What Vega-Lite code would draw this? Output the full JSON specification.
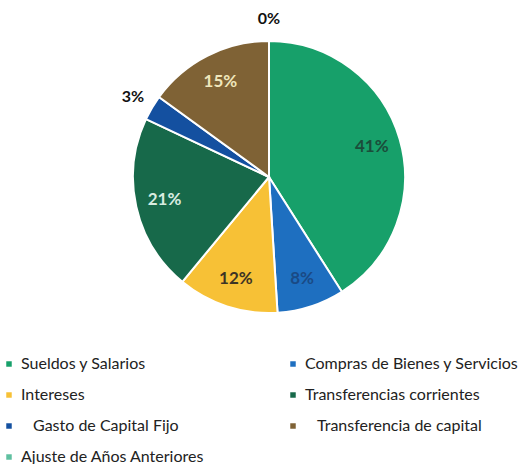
{
  "$schema": "https://vega.github.io/schema/vega-lite/v6.json",
  "autosize": "none",
  "width": 518,
  "height": 354,
  "padding": {"left": 10, "top": 0, "right": 0, "bottom": 110},
  "background": "white",
  "config": {"view": {"stroke": null}, "font": "Lato"},
  "data": {"values": [
    {"categoria": "Sueldos y Salarios", "pct": 0.41, "i": 1},
    {"categoria": "Compras de Bienes y Servicios", "pct": 0.08, "i": 2},
    {"categoria": "Intereses", "pct": 0.12, "i": 3},
    {"categoria": "Transferencias corrientes", "pct": 0.21, "i": 4},
    {"categoria": "Gasto de Capital Fijo", "pct": 0.03, "i": 5},
    {"categoria": "Transferencia de capital", "pct": 0.15, "i": 6},
    {"categoria": "Ajuste de Años Anteriores", "pct": 0.0, "i": 7}
  ]},
  "layer": [
    {
      "mark": {"type": "arc", "outerRadius": 136, "stroke": "white", "strokeWidth": 2},
      "encoding": {
        "theta": {"field": "pct", "type": "quantitative", "stack": true},
        "order": {"field": "i", "type": "quantitative"},
        "color": {
          "field": "categoria", "type": "nominal",
          "scale": {
            "domain": ["Sueldos y Salarios", "Intereses", "Gasto de Capital Fijo", "Ajuste de Años Anteriores", "Compras de Bienes y Servicios", "Transferencias corrientes", "Transferencia de capital"],
            "range": ["#17a06a", "#f7c136", "#1450a0", "#5fc0a0", "#1e6fc0", "#17694a", "#7f6235"]
          },
          "legend": {
            "title": null,
            "orient": "none",
            "legendX": -9,
            "legendY": 356,
            "columns": 2,
            "columnPadding": 80,
            "rowPadding": 15,
            "symbolType": "square",
            "symbolSize": 30,
            "symbolStrokeWidth": 0,
            "labelFont": "Lato",
            "labelFontSize": 16,
            "labelColor": "#222222",
            "labelLimit": 300,
            "labelExpr": "datum.value == 'Gasto de Capital Fijo' ? '\u2800' + datum.label : datum.value == 'Transferencia de capital' ? '\u2800' + datum.label : datum.label"
          }
        }
      }
    },
    {
      "mark": {"type": "text", "radius": 107, "fontSize": 17, "fontWeight": "bold", "font": "Lato"},
      "encoding": {
        "theta": {"field": "pct", "type": "quantitative", "stack": true},
        "order": {"field": "i", "type": "quantitative"},
        "text": {"field": "pct", "type": "quantitative", "format": ".0%", "condition": {"test": "datum.pct < 0.05", "value": ""}},
        "color": {
          "field": "categoria", "type": "nominal",
          "scale": {
            "domain": ["Sueldos y Salarios", "Compras de Bienes y Servicios", "Intereses", "Transferencias corrientes", "Gasto de Capital Fijo", "Transferencia de capital", "Ajuste de Años Anteriores"],
            "range": ["#1b4d3a", "#1a4a85", "#3d3425", "#d8ece0", "#ffffff", "#efe6bb", "#000000"]
          },
          "legend": null
        }
      }
    },
    {
      "mark": {"type": "text", "radius": 158, "fontSize": 16, "fontWeight": "bold", "font": "Lato", "color": "#111111"},
      "encoding": {
        "theta": {"field": "pct", "type": "quantitative", "stack": true},
        "order": {"field": "i", "type": "quantitative"},
        "text": {"field": "pct", "type": "quantitative", "format": ".0%", "condition": {"test": "datum.pct >= 0.05", "value": ""}}
      }
    }
  ],
  "resolve": {"scale": {"color": "independent"}}
}
